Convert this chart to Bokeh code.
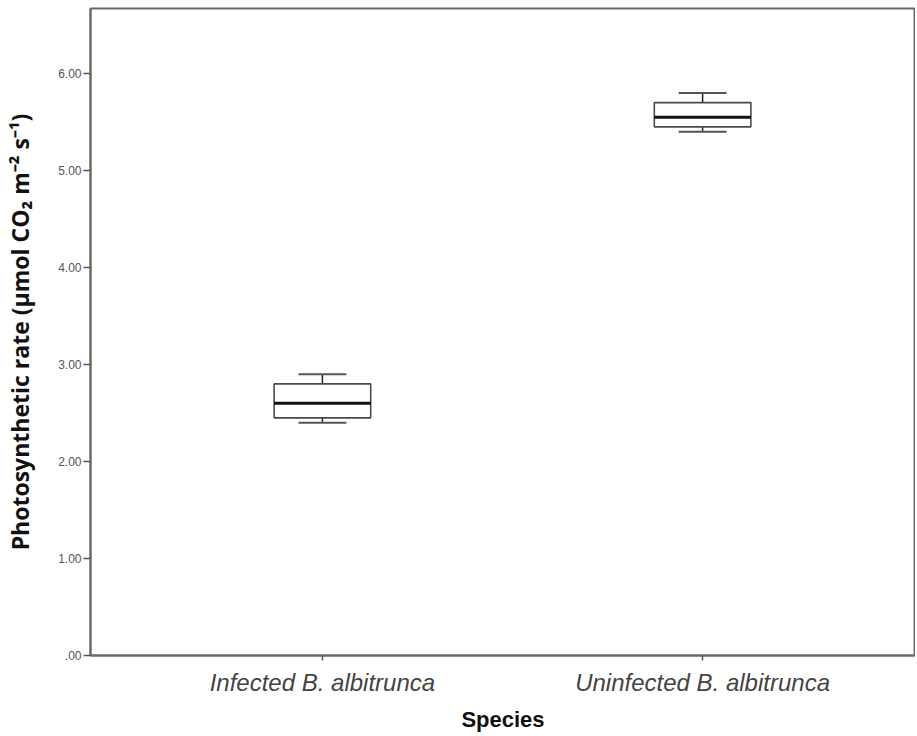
from bokeh.plotting import figure
from bokeh.models import ColumnDataSource, FixedTicker, Range1d
from bokeh.embed import file_html
from bokeh.resources import INLINE

# ---- data ----
categories = ["Infected B. albitrunca", "Uninfected B. albitrunca"]
whisker_low = [2.40, 5.40]
q1 = [2.45, 5.45]
median = [2.60, 5.55]
q3 = [2.80, 5.70]
whisker_high = [2.90, 5.80]
y_ticks = [0, 1, 2, 3, 4, 5, 6]
y_tick_labels = [".00", "1.00", "2.00", "3.00", "4.00", "5.00", "6.00"]

# ---- styles ----
BOX_HALF = 0.127
CAP_HALF = 0.063

xpos = list(range(len(categories)))
src = ColumnDataSource(dict(
    x=xpos,
    left=[x - BOX_HALF for x in xpos],
    right=[x + BOX_HALF for x in xpos],
    cap_l=[x - CAP_HALF for x in xpos],
    cap_r=[x + CAP_HALF for x in xpos],
    wl=whisker_low, q1=q1, med=median, q3=q3, wh=whisker_high,
))

p = figure(width=915, height=734, output_backend="svg", toolbar_location=None,
           x_range=Range1d(-0.61, 1.56), y_range=Range1d(0, 6.67),
           min_border_left=90, min_border_right=0, min_border_top=8, min_border_bottom=60)

p.background_fill_color = "white"
p.border_fill_color = "white"
p.outline_line_color = "#6a6a6a"
p.outline_line_width = 2
p.grid.visible = False

line_col = "#4a4a4a"
# whisker stems
p.segment(x0="x", y0="q3", x1="x", y1="wh", source=src, line_color="#222222", line_width=1.5)
p.segment(x0="x", y0="wl", x1="x", y1="q1", source=src, line_color="#222222", line_width=1.5)
# caps
p.segment(x0="cap_l", y0="wh", x1="cap_r", y1="wh", source=src, line_color="#555555", line_width=2)
p.segment(x0="cap_l", y0="wl", x1="cap_r", y1="wl", source=src, line_color="#555555", line_width=2)
# boxes
p.quad(left="left", right="right", bottom="q1", top="q3", source=src,
       fill_color="white", line_color=line_col, line_width=1.6)
# medians
p.segment(x0="left", y0="med", x1="right", y1="med", source=src, line_color="#111111", line_width=3)

# y axis
p.yaxis.ticker = FixedTicker(ticks=y_ticks)
p.yaxis.major_label_overrides = {t: l for t, l in zip(y_ticks, y_tick_labels)}
p.yaxis.minor_tick_line_color = None
p.yaxis.major_tick_in = 0
p.yaxis.major_tick_out = 7
p.yaxis.major_tick_line_color = "#555555"
p.yaxis.major_tick_line_width = 1.5
p.yaxis.axis_line_color = "#6a6a6a"
p.yaxis.axis_line_width = 2
p.yaxis.major_label_text_font = "Liberation Sans"
p.yaxis.major_label_text_font_size = "12px"
p.yaxis.major_label_text_color = "#555555"
p.yaxis.major_label_standoff = 2
p.yaxis.axis_label = "Photosynthetic rate (µmol CO₂ m⁻² s⁻¹)"
p.yaxis.axis_label_text_font = "Open Sans"
p.yaxis.axis_label_text_font_style = "bold"
p.yaxis.axis_label_text_font_size = "23px"
p.yaxis.axis_label_text_color = "#111111"
p.yaxis.axis_label_standoff = 19

# x axis
p.xaxis.ticker = FixedTicker(ticks=xpos)
p.xaxis.major_label_overrides = {x: c for x, c in zip(xpos, categories)}
p.xaxis.minor_tick_line_color = None
p.xaxis.major_tick_in = 0
p.xaxis.major_tick_out = 5
p.xaxis.major_tick_line_color = "#555555"
p.xaxis.major_tick_line_width = 1.5
p.xaxis.axis_line_color = "#6a6a6a"
p.xaxis.axis_line_width = 2
p.xaxis.major_label_text_font = "Liberation Sans"
p.xaxis.major_label_text_font_size = "24px"
p.xaxis.major_label_text_font_style = "italic"
p.xaxis.major_label_text_color = "#444444"
p.xaxis.major_label_standoff = 8
p.xaxis.axis_label = "Species"
p.xaxis.axis_label_text_font = "Liberation Sans"
p.xaxis.axis_label_text_font_style = "bold"
p.xaxis.axis_label_text_font_size = "22px"
p.xaxis.axis_label_text_color = "#111111"
p.xaxis.axis_label_standoff = 8

open("out.html", "w").write(file_html(p, INLINE))
